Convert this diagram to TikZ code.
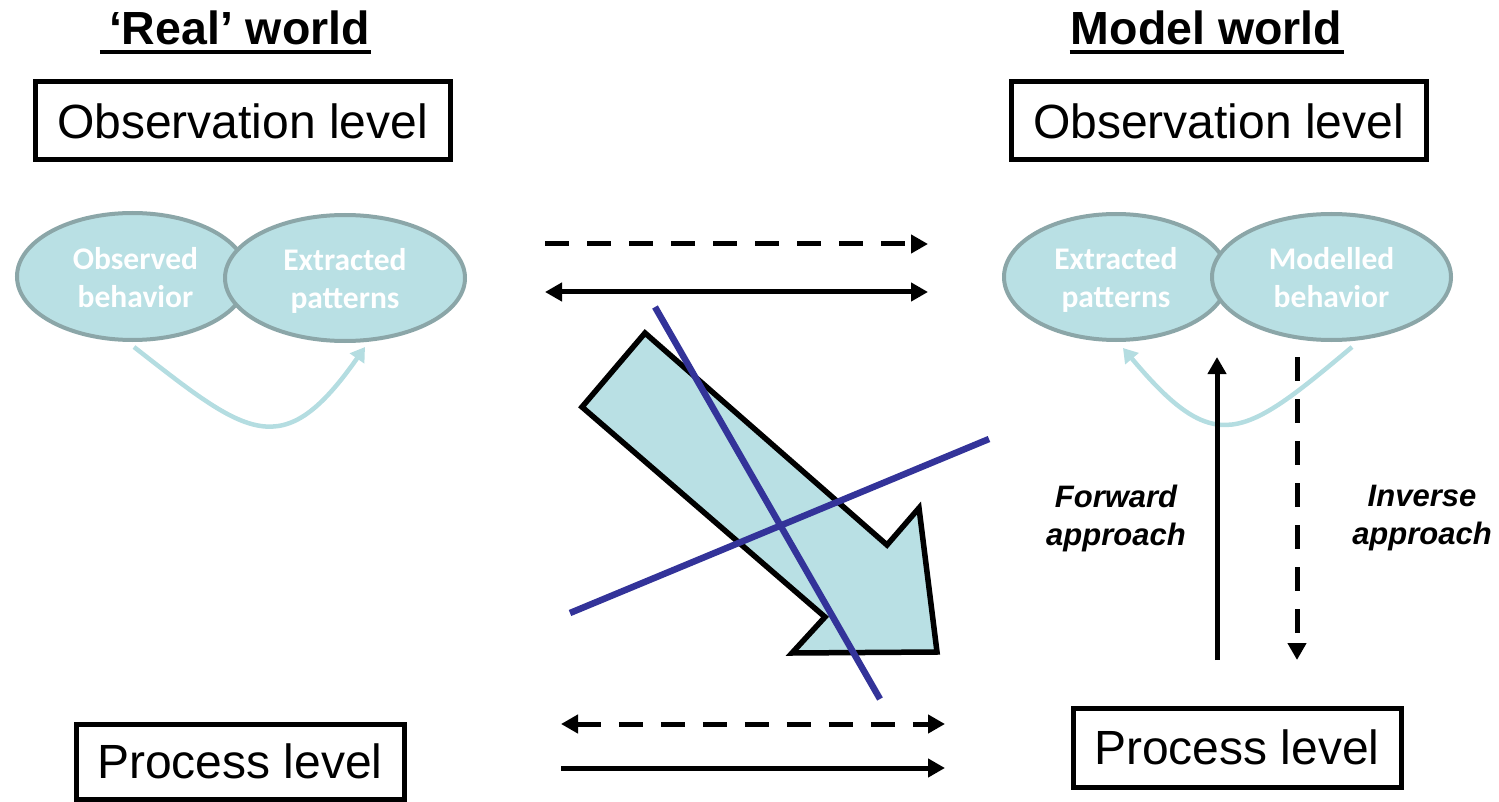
\documentclass[tikz,border=0pt]{standalone}
\usepackage{fontspec}
\setmainfont{Liberation Sans}
\newfontfamily\calfont{Carlito}
\usetikzlibrary{arrows.meta,shapes.geometric,calc}
\definecolor{fillblue}{RGB}{185,224,228}
\definecolor{ellborder}{RGB}{139,166,168}
\definecolor{curveblue}{RGB}{180,221,225}
\definecolor{crossblue}{RGB}{51,51,153}
\newcommand{\ellfirst}[1]{\raisebox{0pt}[28pt]{#1}}
\begin{document}
\begin{tikzpicture}[x=1pt,y=-1pt,
  levelbox/.style={draw, line width=5pt, inner sep=0pt, font=\fontsize{48}{58}\selectfont},
  ell/.style={ellipse, draw=ellborder, fill=fillblue, line width=4pt, inner sep=0pt,
    text=white, align=center, font=\calfont\bfseries\fontsize{31.5}{38}\selectfont},
  worldtitle/.style={anchor=base, inner sep=0pt, font=\bfseries\fontsize{46.5}{56}\selectfont},
  uline/.style={line width=4pt},
  tipbig/.tip={Triangle[length=17pt,width=18pt]},
  sconn/.style={line width=5pt, -tipbig},
  dconn/.style={line width=5pt, dash pattern=on 24pt off 18pt, -tipbig},
  curvearrow/.style={curveblue, line width=4.5pt, -{Triangle[length=14pt,width=17pt]}},
  blockarrow/.style={draw=black, fill=fillblue, line width=5.5pt, line join=miter},
  crossline/.style={crossblue, line width=6.5pt},
  approach/.style={align=center, inner sep=0pt, font=\bfseries\itshape\fontsize{31}{38}\selectfont}
]
\useasboundingbox (0,0) rectangle (1499,802);

% titles
\node[worldtitle] (treal) at (239.5,45) {‘Real’ world};
\draw[uline] ($(treal.base west)+(-9,7)$) -- ($(treal.base east)+(1,7)$);
\node[worldtitle] (tmodel) at (1206.5,45) {Model world};
\draw[uline] ($(tmodel.base west)+(-1,7)$) -- ($(tmodel.base east)+(2,7)$);

% level boxes
\node[levelbox, minimum width=415pt, minimum height=78pt] (obsL) at (242.5,121) {Observation level};
\node[levelbox, minimum width=415pt, minimum height=78pt] (obsR) at (1218.5,121) {Observation level};
\node[levelbox, minimum width=328pt, minimum height=75pt] (procL) at (240,761.5) {Process level};
\node[levelbox, minimum width=328pt, minimum height=79pt] (procR) at (1237,747.5) {Process level};

% ellipses
\node[ell, minimum width=231pt, minimum height=127pt] (obsbeh) at (132.5,276.5) {\hspace*{6pt}\ellfirst{Observed}\\\hspace*{6pt}behavior\vphantom{p}};
\node[ell, minimum width=240pt, minimum height=126pt] (extL) at (345,278) {\ellfirst{Extracted}\\patterns};
\node[ell, minimum width=224pt, minimum height=126pt] (extR) at (1116,277) {\ellfirst{Extracted}\\patterns};
\node[ell, minimum width=239pt, minimum height=126pt] (modbeh) at (1331.5,277) {\ellfirst{Modelled}\\behavior\vphantom{p}};

% curved arrows
\coordinate (cLs) at (134,347);
\coordinate (cLe) at (365,347);
\draw[curvearrow] (cLs) to[out=-38,in=-125,looseness=1.6] (cLe);
\coordinate (cRs) at (1352,347);
\coordinate (cRe) at (1123,348);
\draw[curvearrow] (cRs) to[out=-140,in=-50,looseness=1.6] (cRe);

% horizontal arrows, top
\coordinate (ha1) at (545,244); \coordinate (hb1) at (928,244);
\draw[dconn] (ha1) -- (hb1);
\coordinate (ha2) at (545,292); \coordinate (hb2) at (928,292);
\draw[sconn, tipbig-tipbig] (ha2) -- (hb2);

% horizontal arrows, bottom
\coordinate (ha3) at (561,724); \coordinate (hb3) at (945,724);
\draw[dconn, tipbig-tipbig] (ha3) -- (hb3);
\coordinate (ha4) at (561,768); \coordinate (hb4) at (945,768);
\draw[sconn] (ha4) -- (hb4);

% block arrow
\draw[blockarrow] (645,333) -- (582,407) -- (825,617) -- (792,653) -- (937,652) -- (919,508) -- (887,545) -- cycle;

% crossing lines
\coordinate (x1a) at (655,307); \coordinate (x1b) at (880,699);
\draw[crossline] (x1a) -- (x1b);
\coordinate (x2a) at (570,613); \coordinate (x2b) at (989,439);
\draw[crossline] (x2a) -- (x2b);

% vertical arrows
\coordinate (fwA) at (1217,660); \coordinate (fwB) at (1217,357);
\draw[sconn] (fwA) -- (fwB);
\coordinate (invA) at (1297,357); \coordinate (invB) at (1297,660);
\draw[dconn] (invA) -- (invB);

% approach labels
\node[approach] (fwd) at (1116,518) {Forward\\approach};
\node[approach] (inv) at (1422,518) {Inverse\\approach};
\end{tikzpicture}
\end{document}
